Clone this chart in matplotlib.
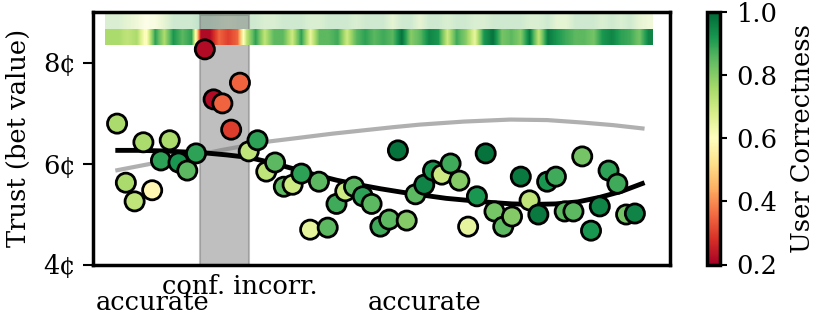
import numpy as np
import matplotlib
matplotlib.use("Agg")
import matplotlib.pyplot as plt
from matplotlib.transforms import blended_transform_factory

plt.rcParams['font.family'] = ['DejaVu Serif']

# ---- data ----
question_idx = list(range(60))
trust = [6.79, 5.62, 5.25, 6.42, 5.47, 6.06, 6.46, 6.02, 5.86, 6.20,
         8.26, 7.27, 7.19, 6.67, 7.60, 6.24, 6.46, 5.84, 6.02, 5.54,
         5.58, 5.80, 4.69, 5.64, 4.73, 5.20, 5.45, 5.54, 5.35, 5.20,
         4.75, 4.89, 6.26, 4.87, 5.39, 5.58, 5.86, 5.78, 6.00, 5.66,
         4.75, 5.35, 6.20, 5.05, 4.75, 4.95, 5.74, 5.27, 4.99, 5.64,
         5.74, 5.05, 5.05, 6.14, 4.67, 5.15, 5.86, 5.60, 4.99, 5.01]
correctness = [0.75, 0.75, 0.72, 0.75, 0.58, 0.90, 0.75, 0.92, 0.85, 0.90,
               0.22, 0.22, 0.35, 0.30, 0.35, 0.72, 0.90, 0.72, 0.85, 0.85,
               0.70, 0.90, 0.65, 0.85, 0.85, 0.88, 0.70, 0.85, 0.90, 0.85,
               0.88, 0.85, 0.98, 0.80, 0.85, 0.95, 0.92, 0.70, 0.88, 0.80,
               0.65, 0.92, 0.98, 0.82, 0.85, 0.80, 0.97, 0.72, 0.97, 0.92,
               0.88, 0.85, 0.85, 0.82, 0.92, 0.95, 0.90, 0.88, 0.82, 0.95]
ai_confidence = [0.80, 0.80, 0.75, 0.70, 0.62, 0.65, 0.75, 0.85, 0.85, 0.85,
                 0.90, 0.90, 0.85, 0.80, 0.85, 0.85, 0.85, 0.80, 0.80, 0.85,
                 0.85, 0.85, 0.80, 0.80, 0.85, 0.85, 0.85, 0.80, 0.85, 0.85,
                 0.85, 0.75, 0.85, 0.85, 0.75, 0.85, 0.85, 0.80, 0.85, 0.85,
                 0.80, 0.80, 0.85, 0.85, 0.85, 0.85, 0.80, 0.80, 0.85, 0.75,
                 0.75, 0.85, 0.85, 0.85, 0.80, 0.85, 0.80, 0.85, 0.75, 0.70]

trend_x = [-0.2, 2.5, 5, 7.5, 10, 12.5, 15, 17.5, 20, 22.5, 25, 27.5, 30,
           32.5, 35, 37.5, 40, 42.5, 45, 47.5, 50, 52.5, 55, 57.5, 60.1]
trend_trust = [6.26, 6.26, 6.25, 6.23, 6.21, 6.17, 6.12, 6.02, 5.90, 5.78,
               5.67, 5.58, 5.50, 5.43, 5.37, 5.31, 5.27, 5.23, 5.20, 5.19,
               5.20, 5.24, 5.33, 5.45, 5.62]
ref_x = [-0.2, 2.5, 4.6, 7, 9.5, 12, 14.9, 17.5, 20.8, 24.5, 28.8, 31.5,
         34.5, 39.5, 44.8, 49, 53.1, 56.5, 60.1]
ref_trust = [5.86, 5.95, 6.02, 6.10, 6.18, 6.27, 6.36, 6.44, 6.51, 6.59,
             6.67, 6.72, 6.77, 6.83, 6.87, 6.86, 6.81, 6.76, 6.69]

span = (9.5, 15.0)
region_labels = ["accurate", "conf. incorr.", "accurate"]
region_label_x = [4.0, 14.0, 35.0]
region_label_y = [-0.15, -0.087, -0.15]
yticks = [4, 6, 8]
ytick_labels = ["4¢", "6¢", "8¢"]

FS = 18.5

# ---- figure ----
fig = plt.figure(figsize=(8.3, 3.21), dpi=100)
ax = fig.add_axes([92.5 / 830, 1 - 264.5 / 321, (670 - 92.5) / 830, (264.5 - 12) / 321])
cax = fig.add_axes([707 / 830, 1 - 264.5 / 321, 13 / 830, (264.5 - 12) / 321])

cmap = plt.get_cmap('RdYlGn')
vmin, vmax = 0.2, 1.0

ax.plot(ref_x, ref_trust, color='#b0b0b0', lw=3, zorder=1, solid_capstyle='butt')
ax.axvspan(span[0], span[1], ymax=0.99, color='gray', alpha=0.5, lw=1.5, zorder=1.5)
ax.plot(trend_x, trend_trust, color='black', lw=3.5, zorder=2, solid_capstyle='butt')

ax.imshow(np.array([ai_confidence]), cmap=cmap, vmin=vmin, vmax=vmax, alpha=0.3,
          extent=(-1.4, 60.93, 8.65, 8.95), aspect='auto', interpolation='bilinear',
          interpolation_stage='data', zorder=1.2)
ax.imshow(np.array([correctness]), cmap=cmap, vmin=vmin, vmax=vmax,
          extent=(-1.4, 60.93, 8.34, 8.65), aspect='auto', interpolation='bilinear',
          interpolation_stage='data', zorder=1.8)

sc = ax.scatter(question_idx, trust, c=correctness, cmap=cmap, vmin=vmin, vmax=vmax,
                s=190, edgecolors='black', linewidths=2.0, zorder=3)

ax.set_xlim(-2.8, 63.0)
ax.set_ylim(4, 9)
ax.set_yticks(yticks)
ax.set_yticklabels(ytick_labels, fontsize=FS)
ax.set_xticks([])
ax.set_ylabel("Trust (bet value)", fontsize=FS, labelpad=9)
for s in ax.spines.values():
    s.set_linewidth(2.5)
ax.tick_params(axis='y', length=7, width=1.5, pad=5)

trans = blended_transform_factory(ax.transData, ax.transAxes)
for lab, lx, ly in zip(region_labels, region_label_x, region_label_y):
    ax.text(lx, ly, lab, transform=trans, ha='center', va='center', fontsize=FS)

cb = fig.colorbar(sc, cax=cax)
cb.outline.set_linewidth(2.5)
cb.set_ticks([0.2, 0.4, 0.6, 0.8, 1.0])
cb.ax.tick_params(labelsize=FS, length=5, width=1.5, pad=7)
cb.set_label("User Correctness", fontsize=FS, labelpad=9)

fig.savefig("out.png", dpi=100)
